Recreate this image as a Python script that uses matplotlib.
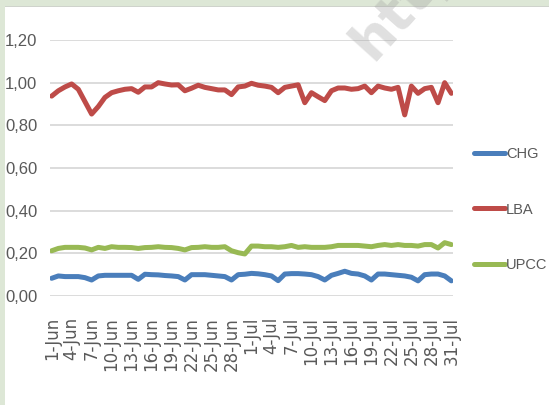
import numpy as np
import matplotlib
matplotlib.use('Agg')
import matplotlib.pyplot as plt
from matplotlib.patches import Rectangle

# daily categories 1-Jun .. 31-Jul
days = [f"{d}-Jun" for d in range(1, 31)] + [f"{d}-Jul" for d in range(1, 32)]

chg = [0.083, 0.094, 0.091, 0.091, 0.091, 0.086, 0.075, 0.094, 0.097, 0.097,
       0.097, 0.097, 0.097, 0.078, 0.102, 0.100, 0.099, 0.096, 0.094, 0.091,
       0.075, 0.100, 0.100, 0.100, 0.097, 0.094, 0.091, 0.075, 0.100, 0.102,
       0.106, 0.104, 0.100, 0.094, 0.072, 0.103, 0.105, 0.105, 0.103, 0.100,
       0.091, 0.075, 0.097, 0.106, 0.116, 0.106, 0.103, 0.094, 0.075, 0.103,
       0.103, 0.100, 0.097, 0.094, 0.088, 0.071, 0.100, 0.103, 0.103, 0.094,
       0.071]

lba = [0.937, 0.962, 0.980, 0.994, 0.969, 0.911, 0.853, 0.888, 0.931, 0.953,
       0.962, 0.969, 0.972, 0.955, 0.980, 0.980, 1.000, 0.994, 0.989, 0.990,
       0.962, 0.974, 0.988, 0.978, 0.972, 0.966, 0.966, 0.944, 0.980, 0.984,
       0.997, 0.988, 0.984, 0.978, 0.953, 0.978, 0.984, 0.990, 0.906, 0.953,
       0.934, 0.916, 0.962, 0.975, 0.975, 0.969, 0.972, 0.984, 0.953, 0.984,
       0.975, 0.969, 0.978, 0.849, 0.984, 0.950, 0.972, 0.978, 0.906, 1.000,
       0.950]

upcc = [0.212, 0.223, 0.228, 0.228, 0.228, 0.225, 0.216, 0.228, 0.223, 0.231,
        0.228, 0.228, 0.227, 0.223, 0.227, 0.228, 0.231, 0.228, 0.227, 0.223,
        0.216, 0.227, 0.228, 0.231, 0.228, 0.228, 0.231, 0.212, 0.203, 0.197,
        0.234, 0.234, 0.231, 0.231, 0.228, 0.231, 0.237, 0.228, 0.231, 0.228,
        0.228, 0.228, 0.231, 0.237, 0.237, 0.237, 0.237, 0.234, 0.231, 0.237,
        0.241, 0.237, 0.241, 0.237, 0.237, 0.234, 0.241, 0.241, 0.225, 0.250,
        0.241]

yticks = [0.0, 0.2, 0.4, 0.6, 0.8, 1.0, 1.2]
ytick_labels = ["0,00", "0,20", "0,40", "0,60", "0,80", "1,00", "1,20"]

W, H = 549, 405
fig = plt.figure(figsize=(W / 100, H / 100), dpi=100)
fig.patch.set_facecolor('#dde7d6')
# white panel inside the green frame
fig.add_artist(Rectangle((5 / W, 0), 1, (H - 6) / H, transform=fig.transFigure,
                         facecolor='white', edgecolor='none', zorder=-2))
fig.add_artist(Rectangle((5 / W, (H - 7) / H), 1, 1.5 / H, transform=fig.transFigure,
                         facecolor='#cfd3cc', edgecolor='none', zorder=-2))

ax = fig.add_axes([50 / W, (H - 296) / H, (453 - 50) / W, (296 - 40) / H])
ax.set_facecolor('none')
ax.set_zorder(1)

x = np.arange(len(days))
lw = 3.6
ax.plot(x, chg, color='#4a7ebb', lw=lw, label='CHG', solid_capstyle='round')
ax.plot(x, lba, color='#be4b48', lw=lw, label='LBA', solid_capstyle='round')
ax.plot(x, upcc, color='#98b954', lw=lw, label='UPCC', solid_capstyle='round')

ax.set_xlim(-0.25, len(days) - 0.75)
ax.set_ylim(0, 1.2)
ax.set_yticks(yticks)
ax.set_yticklabels(ytick_labels, family=['Liberation Sans', 'DejaVu Sans'],
                   fontsize=12, color='#595959')
ax.set_xticks(x[::3])
ax.set_xticklabels(days[::3], rotation=90, fontsize=12, color='#595959')
ax.tick_params(axis='both', length=0)
ax.tick_params(axis='y', pad=9)
ax.tick_params(axis='x', pad=15)
ax.grid(axis='y', color='#d9d9d9', lw=1.3)
ax.set_axisbelow(True)
for s in ax.spines.values():
    s.set_visible(False)

leg = fig.legend(loc='upper left', bbox_to_anchor=(474 / W, (H - 147) / H),
                 frameon=False, borderpad=0, borderaxespad=0,
                 handlelength=2.1, handletextpad=0.1, labelspacing=2.85,
                 prop={'family': ['Liberation Sans', 'DejaVu Sans'], 'size': 10.5})
for t in leg.get_texts():
    t.set_color('#595959')

# faint watermark
fig.text(372 / W, (H - 62) / H, "http://", rotation=48, rotation_mode='anchor',
         ha='left', va='baseline', fontsize=40, fontweight='bold',
         color='#9a9a9a', alpha=0.3, zorder=5)

fig.savefig('out.png', dpi=100, facecolor=fig.get_facecolor())
